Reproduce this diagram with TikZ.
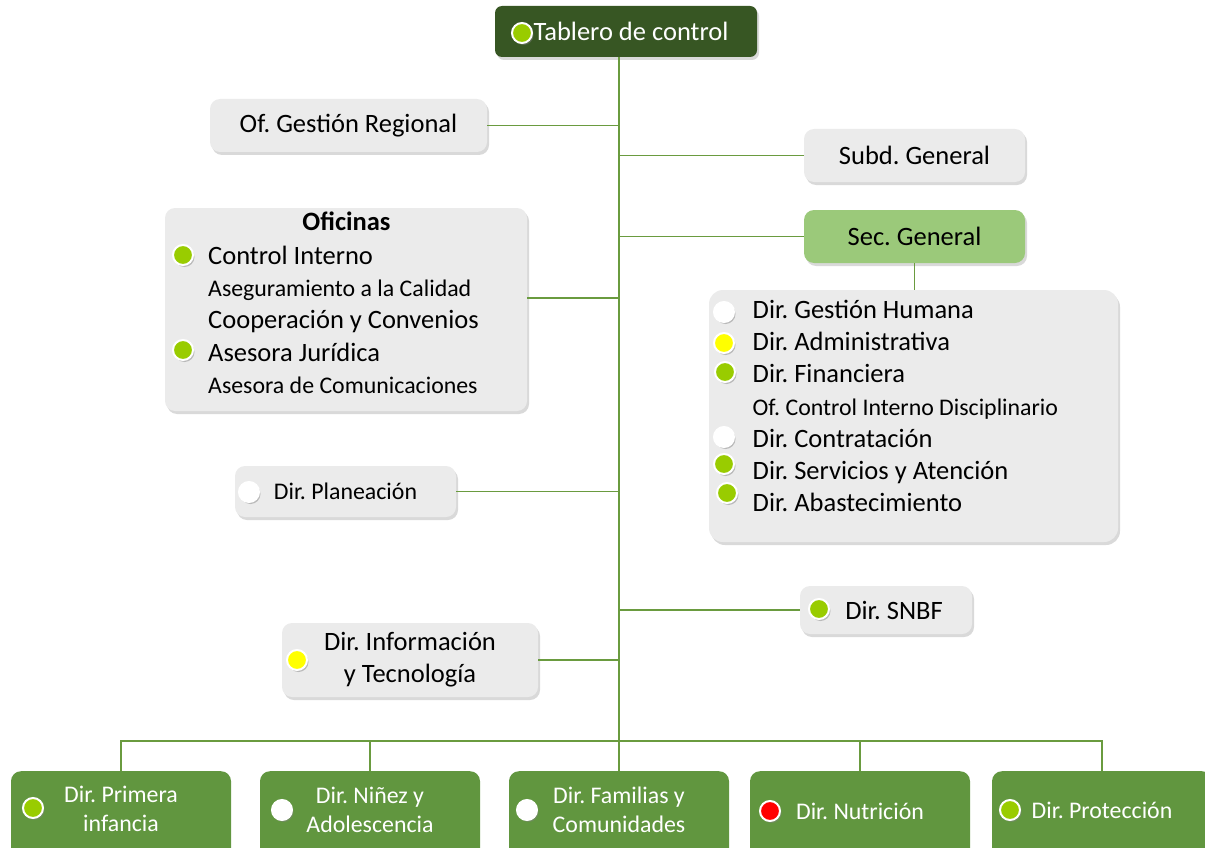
\documentclass[tikz,border=0pt]{standalone}
\usepackage{fontspec}
\setmainfont{Carlito}
\usetikzlibrary{shadows}

\definecolor{darkgreen}{HTML}{375623}
\definecolor{midgreen}{HTML}{61963F}
\definecolor{lightgreen}{HTML}{9BC97A}
\definecolor{boxgray}{HTML}{EBEBEB}
\definecolor{linegreen}{HTML}{6A9B3F}
\definecolor{dotgreen}{HTML}{99CC00}
\definecolor{dotyellow}{HTML}{FFFF00}
\definecolor{dotred}{HTML}{FF0000}

\newcommand{\largetxt}{\fontsize{26.5}{32.3}\selectfont}
\newcommand{\smalltxt}{\fontsize{23.85}{29}\selectfont}
\frenchspacing

\begin{document}
\begin{tikzpicture}[x=1pt, y=-1pt,
  every node/.style={font=\largetxt},
  graybox/.style={rectangle, rounded corners=10pt, fill=boxgray, inner sep=0pt,
    drop shadow={shadow xshift=2pt, shadow yshift=-3pt, opacity=0.3}},
  greenbox/.style={rectangle, rounded corners=10pt, fill=midgreen, inner sep=0pt,
    minimum width=220pt, minimum height=110pt, anchor=north},
  greentext/.style={text=white, align=center, font=\smalltxt},
  listline/.style={anchor=base west, inner xsep=0pt},
  statusdot/.style={circle, draw=white, line width=2pt, inner sep=0pt, minimum size=20pt,
    drop shadow={shadow xshift=1.5pt, shadow yshift=-2pt, opacity=0.45}},
  link/.style={draw=linegreen, line width=1.3pt}]

  \useasboundingbox (0,0) rectangle (1205,848);
  \clip (0,0) rectangle (1205,848);

  % Top box
  \node[rectangle, rounded corners=7pt, fill=darkgreen, text=white, minimum width=262pt,
    minimum height=51pt, drop shadow={shadow xshift=2pt, shadow yshift=-3pt, opacity=0.3}]
    (tablero) at (626,31.5) {\hspace*{10pt}Tablero de control};
  \node[statusdot, fill=dotgreen] (tablerodot) at (522,33) {};

  % Trunk and bus
  \coordinate (trunktop) at (619,57);
  \coordinate (bus) at (619,741);
  \draw[link] (trunktop) -- (bus);

  % Boxes on the left
  \node[graybox, minimum width=277pt, minimum height=53pt] (ofreg) at (348.5,125.5) {Of. Gestión Regional};

  \node[graybox, minimum width=362pt, minimum height=203pt] (oficinas) at (346,309.5) {};
  \node[anchor=base, font=\largetxt\bfseries] (oftitle) at (346.5,230.7) {Oficinas};
  \node[listline] (ctrlint) at (208,264) {Control Interno};
  \node[listline, font=\smalltxt] (asegur) at (208,296.5) {Aseguramiento a la Calidad};
  \node[listline] (coop) at (208,328.8) {Cooperación y Convenios};
  \node[listline] (jurid) at (208,361.5) {Asesora Jurídica};
  \node[listline, font=\smalltxt] (comun) at (208,393.5) {Asesora de Comunicaciones};
  \node[statusdot, fill=dotgreen] (ctrlintdot) at (183,255) {};
  \node[statusdot, fill=dotgreen] (juriddot) at (183,350) {};

  \node[graybox, minimum width=221pt, minimum height=51pt, font=\smalltxt] (planea) at (345.5,491.5) {Dir. Planeación};
  \node[statusdot, fill=white] (planeadot) at (249,492) {};

  \node[graybox, minimum width=256pt, minimum height=74pt, align=center] (infotec) at (410,660) {Dir. Información\\y Tecnología};
  \node[statusdot, fill=dotyellow] (infotecdot) at (297,660) {};

  % Boxes on the right
  \node[graybox, minimum width=221pt, minimum height=53pt] (subd) at (914.5,155.5) {Subd. General};
  \node[graybox, fill=lightgreen, minimum width=221pt, minimum height=53pt] (secgen) at (914.5,236.5) {Sec. General};

  \node[graybox, rounded corners=14pt, minimum width=409pt, minimum height=252pt] (dirs) at (913.5,416) {};
  \node[listline] (gesthum) at (752.5,318.3) {Dir. Gestión Humana};
  \node[listline] (admin) at (752.5,350.5) {Dir. Administrativa};
  \node[listline] (financ) at (752.5,382.7) {Dir. Financiera};
  \node[listline, font=\smalltxt] (discip) at (752.5,415) {Of. Control Interno Disciplinario};
  \node[listline] (contrat) at (752.5,447.3) {Dir. Contratación};
  \node[listline] (servic) at (752.5,479.5) {Dir. Servicios y Atención};
  \node[listline] (abast) at (752.5,511.8) {Dir. Abastecimiento};
  \node[statusdot, fill=white] (gesthumdot) at (724,312) {};
  \node[statusdot, fill=dotyellow] (admindot) at (724,343) {};
  \node[statusdot, fill=dotgreen] (financdot) at (725,372) {};
  \node[statusdot, fill=white] (contratdot) at (724,437) {};
  \node[statusdot, fill=dotgreen] (servicdot) at (724,464) {};
  \node[statusdot, fill=dotgreen] (abastdot) at (727,493) {};

  \node[graybox, minimum width=172pt, minimum height=48pt] (snbf) at (886,610) {\hspace*{16pt}Dir. SNBF};
  \node[statusdot, fill=dotgreen] (snbfdot) at (819,609) {};

  % Bottom row
  \node[greenbox] (prim) at (121,771) {};
  \node[greenbox] (ninez) at (370,771) {};
  \node[greenbox] (famil) at (619,771) {};
  \node[greenbox] (nutri) at (860,771) {};
  \node[greenbox] (prot) at (1102,771) {};
  \node[greentext] (primtxt) at (121,809) {Dir. Primera\\infancia};
  \node[greentext] (nineztxt) at (370,810) {Dir. Niñez y\\Adolescencia};
  \node[greentext] (familtxt) at (619,810) {Dir. Familias y\\Comunidades};
  \node[greentext] (nutritxt) at (860,811) {Dir. Nutrición};
  \node[greentext] (prottxt) at (1102,810) {Dir. Protección};
  \node[statusdot, fill=dotgreen] (primdot) at (33,808) {};
  \node[statusdot, fill=white] (ninezdot) at (282,810) {};
  \node[statusdot, fill=white] (famildot) at (527,810) {};
  \node[statusdot, fill=dotred] (nutridot) at (770,811) {};
  \node[statusdot, fill=dotgreen] (protdot) at (1010,810) {};

  % Connectors
  \draw[link] (ofreg.east) -- (ofreg.east -| bus);
  \draw[link] ([yshift=11.5pt]oficinas.east) -- ([yshift=11.5pt]oficinas.east -| bus);
  \draw[link] (planea.east) -- (planea.east -| bus);
  \draw[link] (infotec.east) -- (infotec.east -| bus);
  \draw[link] (subd.west) -- (subd.west -| bus);
  \draw[link] (secgen.west) -- (secgen.west -| bus);
  \draw[link] (secgen.south) -- (secgen.south |- dirs.north);
  \draw[link] (snbf.west) -- (snbf.west -| bus);

  \draw[link] (prim.north) -- (prim.north |- bus) -- (prot.north |- bus) -- (prot.north);
  \draw[link] (ninez.north) -- (ninez.north |- bus);
  \draw[link] (famil.north) -- (famil.north |- bus);
  \draw[link] (nutri.north) -- (nutri.north |- bus);

\end{tikzpicture}
\end{document}
